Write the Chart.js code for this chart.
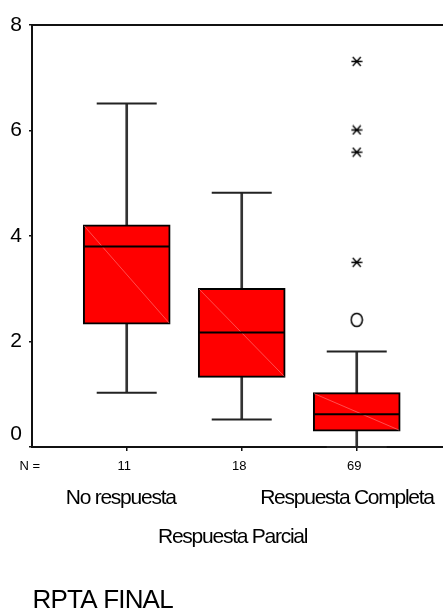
<!DOCTYPE html>
<html>
<head>
<meta charset="utf-8">
<script src="https://cdn.jsdelivr.net/npm/chart.js@4/dist/chart.umd.min.js"></script>
<style>
  html, body { margin: 0; padding: 0; background: #fff; overflow: hidden; }
  canvas { display: block; }
</style>
</head>
<body>
<canvas id="chart" width="443" height="610"></canvas>
<script>
// Groups of RPTA FINAL and their sizes
const categories = ['No respuesta', 'Respuesta Parcial', 'Respuesta Completa'];
const counts = [11, 18, 69];

// Box plot summaries per group
const whiskerLow  = [1.03, 0.52, 0.00];
const quartile1   = [2.33, 1.32, 0.30];
const medians     = [3.80, 2.17, 0.62];
const quartile3   = [4.21, 3.01, 1.03];
const whiskerHigh = [6.51, 4.82, 1.81];

// Outliers (circle) and extreme values (asterisk), by group index
const outlierGroup = [2];
const outlierValues = [2.41];
const extremeGroup = [2, 2, 2, 2];
const extremeValues = [3.50, 5.59, 6.01, 7.31];

const yTicks = [0, 2, 4, 6, 8];
const axisTitle = 'RPTA FINAL';

const FONT = '"Liberation Sans", Arial, Helvetica, sans-serif';

// Marker images
function asteriskMarker() {
  const c = document.createElement('canvas');
  c.width = 12; c.height = 11;
  const g = c.getContext('2d');
  g.strokeStyle = '#000';
  g.lineWidth = 1.3;
  g.beginPath();
  g.moveTo(0.5, 5.5); g.lineTo(11.5, 5.5);
  g.moveTo(2, 1); g.lineTo(10, 10);
  g.moveTo(10, 1); g.lineTo(2, 10);
  g.stroke();
  return c;
}
function ringMarker() {
  const c = document.createElement('canvas');
  c.width = 14; c.height = 16;
  const g = c.getContext('2d');
  g.strokeStyle = '#000';
  g.lineWidth = 1.5;
  g.beginPath();
  g.ellipse(7, 8, 5.6, 6.6, 0, 0, Math.PI * 2);
  g.stroke();
  return c;
}

const pos = i => i + 1;

const boxData = categories.map((_, i) => ({ x: pos(i), y: [quartile1[i], quartile3[i]] }));
const upperStem = categories.map((_, i) => ({ x: pos(i), y: [quartile3[i], whiskerHigh[i]] }));
const lowerStem = categories.map((_, i) => ({ x: pos(i), y: [whiskerLow[i], quartile1[i]] }));
const capData = categories.flatMap((_, i) => [
  { x: pos(i), y: whiskerHigh[i] },
  { x: pos(i), y: whiskerLow[i] }
]);
const medianData = categories.map((_, i) => ({ x: pos(i), y: medians[i] }));
const outlierData = outlierValues.map((v, k) => ({ x: pos(outlierGroup[k]), y: v }));
const extremeData = extremeValues.map((v, k) => ({ x: pos(extremeGroup[k]), y: v }));

// Faint diagonal across each box fill
const boxDiagonal = {
  id: 'boxDiagonal',
  afterDatasetDraw(chart, args) {
    if (chart.data.datasets[args.index].label !== 'box') return;
    const ctx = chart.ctx;
    ctx.save();
    ctx.strokeStyle = 'rgba(255,150,150,0.75)';
    ctx.lineWidth = 0.7;
    args.meta.data.forEach(el => {
      const p = el.getProps(['x', 'y', 'base', 'width'], true);
      const top = Math.min(p.y, p.base), bottom = Math.max(p.y, p.base);
      const l = p.x - p.width / 2 + 1, r = p.x + p.width / 2 - 1;
      ctx.beginPath();
      ctx.moveTo(l, top + 1);
      ctx.lineTo(r, bottom - 1);
      ctx.stroke();
    });
    ctx.restore();
  }
};

// Text placed from its natural width around a tick, drawn slightly condensed
function tightText(ctx, text, cx, y, spacing) {
  ctx.letterSpacing = '0px';
  const w = ctx.measureText(text).width;
  ctx.letterSpacing = spacing;
  ctx.textAlign = 'left';
  ctx.fillText(text, cx - w / 2 + 1.5, y);
  ctx.letterSpacing = '0px';
}

// Frame top line, counts row, group names and axis title
const frameAndLabels = {
  id: 'frameAndLabels',
  afterDraw(chart) {
    const ctx = chart.ctx;
    const area = chart.chartArea;
    const xs = chart.scales.x;
    ctx.save();
    ctx.strokeStyle = '#111';
    ctx.lineWidth = 2;
    ctx.beginPath();
    ctx.moveTo(area.left - 1, area.top);
    ctx.lineTo(area.right, area.top);
    ctx.stroke();

    ctx.fillStyle = '#000';
    ctx.textBaseline = 'alphabetic';

    // N = row
    ctx.font = '13px ' + FONT;
    ctx.textAlign = 'left';
    ctx.fillText('N =', 19.5, 469.5);
    ctx.textAlign = 'center';
    counts.forEach((n, i) => ctx.fillText(String(n), xs.getPixelForValue(pos(i)) - 2.5, 469.5));

    // group names, staggered on two rows
    ctx.font = '21px ' + FONT;
    categories.forEach((name, i) => {
      const row = i % 2;
      tightText(ctx, name, xs.getPixelForValue(pos(i)), row === 0 ? 503.5 : 543, '-1.25px');
    });

    // axis title
    ctx.font = '26px ' + FONT;
    ctx.letterSpacing = '-0.8px';
    ctx.textAlign = 'left';
    ctx.fillText(axisTitle, 32.5, 607.5);
    ctx.letterSpacing = '0px';
    ctx.restore();
  }
};

new Chart(document.getElementById('chart'), {
  type: 'bar',
  data: {
    datasets: [
      {
        label: 'extreme', type: 'scatter', data: extremeData, order: 0,
        pointStyle: asteriskMarker(), pointRadius: 6, clip: false
      },
      {
        label: 'outlier', type: 'scatter', data: outlierData, order: 0,
        pointStyle: ringMarker(), pointRadius: 7, clip: false
      },
      {
        label: 'median', type: 'scatter', data: medianData, order: 1,
        pointStyle: 'line', pointRadius: 43, borderColor: '#000', borderWidth: 2, clip: false
      },
      {
        label: 'cap', type: 'scatter', data: capData, order: 1,
        pointStyle: 'line', pointRadius: 30, borderColor: '#222', borderWidth: 2, clip: false
      },
      {
        label: 'box', data: boxData, order: 3, grouped: false,
        barThickness: 87, backgroundColor: '#ff0000',
        borderColor: '#000', borderWidth: 2, borderSkipped: false
      },
      {
        label: 'stemUp', data: upperStem, order: 4, grouped: false,
        barThickness: 2, backgroundColor: '#333', borderWidth: 0
      },
      {
        label: 'stemDown', data: lowerStem, order: 4, grouped: false,
        barThickness: 2, backgroundColor: '#333', borderWidth: 0
      }
    ]
  },
  options: {
    responsive: false,
    devicePixelRatio: 1,
    animation: false,
    layout: { autoPadding: false, padding: { top: 25, right: 0, bottom: 0, left: 0 } },
    plugins: { legend: { display: false }, tooltip: { enabled: false } },
    scales: {
      x: {
        type: 'linear',
        min: 0.1765,
        max: 3.75,
        offset: false,
        afterBuildTicks: s => { s.ticks = categories.map((_, i) => ({ value: pos(i) })); },
        afterFit: s => { s.height = 163; },
        ticks: { display: false },
        grid: { display: true, offset: false, drawOnChartArea: false, drawTicks: true, tickLength: 4, color: '#111', lineWidth: 1.5 },
        border: { display: true, color: '#111', width: 2 }
      },
      y: {
        type: 'linear',
        min: 0,
        max: 8,
        afterBuildTicks: s => { s.ticks = yTicks.map(v => ({ value: v })); },
        afterFit: s => { s.width = 32; },
        ticks: {
          padding: 7,
          color: '#000',
          font: { family: FONT, size: 21 },
          callback: v => (v === 0 ? ['0', ''] : String(v))
        },
        grid: { display: true, drawOnChartArea: false, drawTicks: true, tickLength: 3, color: '#111', lineWidth: 1.5 },
        border: { display: true, color: '#111', width: 2 }
      }
    }
  },
  plugins: [boxDiagonal, frameAndLabels]
});
</script>
</body>
</html>
